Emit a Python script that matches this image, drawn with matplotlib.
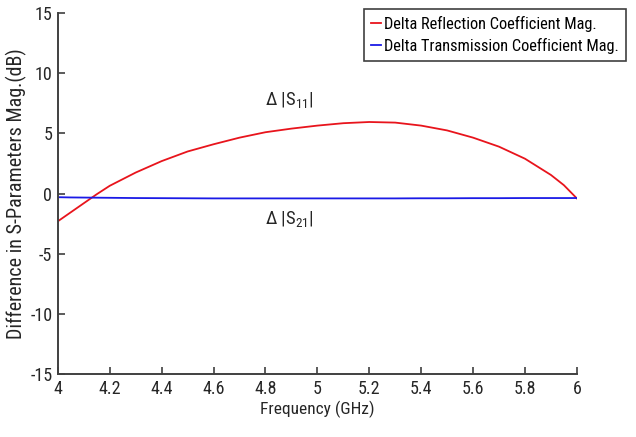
import numpy as np
import matplotlib.pyplot as plt

plt.rcParams['font.family'] = ['Roboto Condensed', 'Liberation Sans', 'DejaVu Sans']
plt.rcParams['axes.unicode_minus'] = False
plt.rcParams['mathtext.fontset'] = 'custom'
plt.rcParams['mathtext.rm'] = 'Roboto Condensed'
plt.rcParams['mathtext.it'] = 'Roboto Condensed'

# Values
freq_ghz = [4.0, 4.05, 4.1, 4.15, 4.2, 4.3, 4.4, 4.5, 4.6, 4.7, 4.8, 4.9, 5.0,
            5.1, 5.2, 5.3, 5.4, 5.5, 5.6, 5.7, 5.8, 5.9, 5.95, 6.0]
delta_s11 = [-2.3, -1.55, -0.8, -0.05, 0.65, 1.75, 2.7, 3.5, 4.1, 4.65, 5.1, 5.4, 5.65,
             5.85, 5.95, 5.9, 5.65, 5.25, 4.65, 3.9, 2.9, 1.55, 0.7, -0.4]
delta_s21 = [-0.3, -0.32, -0.33, -0.34, -0.35, -0.37, -0.38, -0.39, -0.4, -0.4, -0.4, -0.4, -0.4,
             -0.4, -0.4, -0.4, -0.39, -0.39, -0.38, -0.38, -0.37, -0.37, -0.37, -0.37]

xticks = [4, 4.2, 4.4, 4.6, 4.8, 5, 5.2, 5.4, 5.6, 5.8, 6]
xtick_labels = ['4', '4.2', '4.4', '4.6', '4.8', '5', '5.2', '5.4', '5.6', '5.8', '6']
yticks = [-15, -10, -5, 0, 5, 10, 15]

AXIS_GRAY = '#404040'
TEXT_GRAY = '#262626'


def main():
    fig = plt.figure(figsize=(6.36, 4.37), dpi=100)
    ax = fig.add_axes([0.091, 0.144, 0.816, 0.826])

    ax.plot(freq_ghz, delta_s11, color='#e8141c', lw=1.3,
            label='Delta Reflection Coefficient Mag.')
    ax.plot(freq_ghz, delta_s21, color='#1a1ae6', lw=1.3,
            label='Delta Transmission Coefficient Mag.')

    ax.set_xlim(4, 6)
    ax.set_ylim(-15, 15)
    ax.set_xticks(xticks)
    ax.set_xticklabels(xtick_labels)
    ax.set_yticks(yticks)

    # MATLAB style: box off, ticks pointing inwards
    for side in ['top', 'right']:
        ax.spines[side].set_visible(False)
    for side in ['left', 'bottom']:
        ax.spines[side].set_color(AXIS_GRAY)
        ax.spines[side].set_linewidth(1.4)
    ax.tick_params(direction='in', length=5, width=1.2, color=AXIS_GRAY,
                   labelsize=13, labelcolor=TEXT_GRAY, pad=4)

    ax.set_xlabel('Frequency (GHz)', fontsize=12.5, color=TEXT_GRAY, labelpad=2)
    ax.set_ylabel('Difference in S-Parameters Mag.(dB)', fontsize=14.5,
                  color=TEXT_GRAY, labelpad=2)

    ax.text(4.894, 7.8, r'Δ |S$_{11}$|', fontsize=13.5, ha='center',
            va='center', color=TEXT_GRAY)
    ax.text(4.894, -2.1, r'Δ |S$_{21}$|', fontsize=13.5, ha='center',
            va='center', color=TEXT_GRAY)

    leg = ax.legend(loc='upper right', bbox_to_anchor=(0.984, 0.980),
                    bbox_transform=fig.transFigure, fontsize=11.8,
                    fancybox=False, framealpha=1, handlelength=0.6,
                    handletextpad=0.15, borderpad=0.45, labelspacing=0.35,
                    borderaxespad=0)
    leg.get_frame().set_edgecolor(AXIS_GRAY)
    leg.get_frame().set_linewidth(1.2)

    fig.savefig('out.png', dpi=100)


if __name__ == "__main__":
    main()
